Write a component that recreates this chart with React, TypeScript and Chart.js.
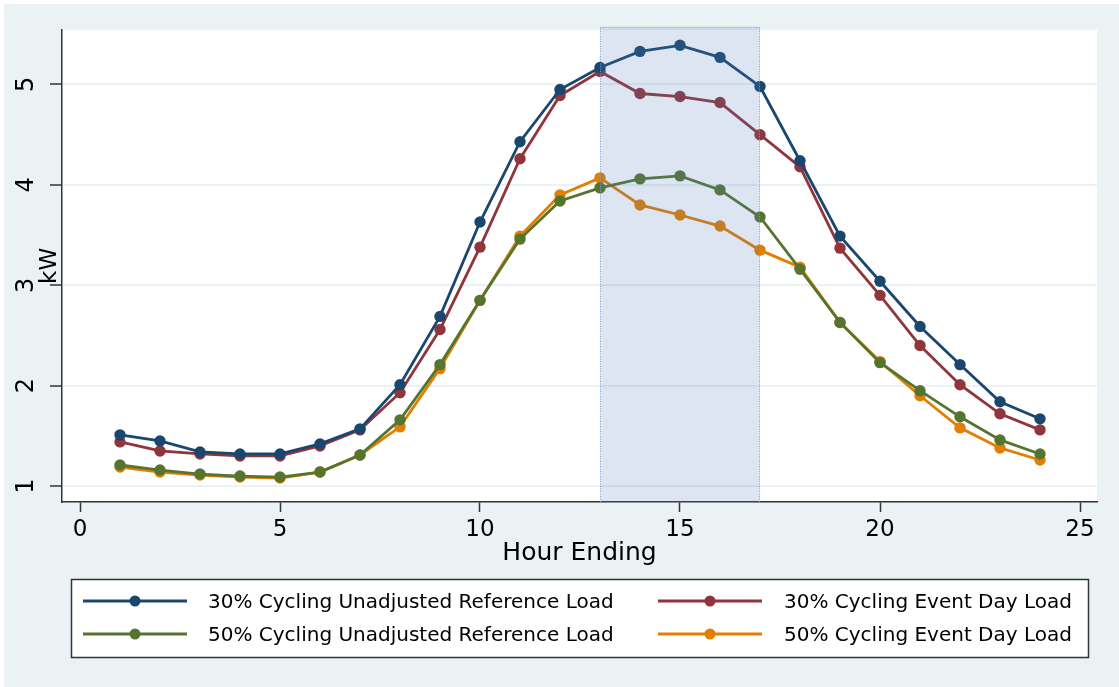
import { useEffect, useRef } from "react";
import { Chart, registerables } from "chart.js";

Chart.register(...registerables);

// ---- Data ----
const hours = [1, 2, 3, 4, 5, 6, 7, 8, 9, 10, 11, 12, 13, 14, 15, 16, 17, 18, 19, 20, 21, 22, 23, 24];
const ref30 = [1.51, 1.45, 1.34, 1.32, 1.32, 1.42, 1.57, 2.01, 2.69, 3.63, 4.43, 4.95, 5.17, 5.33, 5.39, 5.27, 4.98, 4.24, 3.49, 3.04, 2.59, 2.21, 1.84, 1.67];
const event30 = [1.44, 1.35, 1.32, 1.30, 1.30, 1.40, 1.56, 1.93, 2.56, 3.38, 4.26, 4.89, 5.13, 4.91, 4.88, 4.82, 4.50, 4.18, 3.37, 2.90, 2.40, 2.01, 1.72, 1.56];
const ref50 = [1.21, 1.16, 1.12, 1.10, 1.09, 1.14, 1.31, 1.66, 2.21, 2.85, 3.46, 3.84, 3.97, 4.06, 4.09, 3.95, 3.68, 3.16, 2.63, 2.23, 1.95, 1.69, 1.46, 1.32];
const event50 = [1.19, 1.14, 1.11, 1.09, 1.08, 1.14, 1.31, 1.59, 2.17, 2.85, 3.49, 3.90, 4.07, 3.80, 3.70, 3.59, 3.35, 3.18, 2.63, 2.24, 1.90, 1.58, 1.38, 1.26];
const seriesLabels = [
  "30% Cycling Unadjusted Reference Load",
  "30% Cycling Event Day Load",
  "50% Cycling Unadjusted Reference Load",
  "50% Cycling Event Day Load",
];
const seriesValues = [ref30, event30, ref50, event50];
const seriesColors = ["#1a476f", "#90353b", "#55752f", "#e37e00"];
const xTicks = [0, 5, 10, 15, 20, 25];
const yTicks = [1, 2, 3, 4, 5];
const eventWindow = [13, 17];
const xTitle = "Hour Ending";
const yTitle = "kW";

const FONT = "'DejaVu Sans', 'Liberation Sans', Arial, sans-serif";
const BG = "#eaf2f3";
const AXIS = "#333333";

const backgroundPlugin = {
  id: "stataBackground",
  beforeDraw(chart: any) {
    const { ctx, width, height, chartArea } = chart;
    ctx.save();
    ctx.fillStyle = "#ffffff";
    ctx.fillRect(0, 0, width, height);
    ctx.fillStyle = BG;
    ctx.fillRect(4, 4, width - 4, height - 4);
    ctx.fillStyle = "#ffffff";
    ctx.fillRect(chartArea.left, chartArea.top, chartArea.right - chartArea.left, chartArea.bottom - chartArea.top);
    ctx.restore();
  },
};

const shadePlugin = {
  id: "eventShade",
  afterDatasetsDraw(chart: any) {
    const { ctx, chartArea, scales } = chart;
    const x0 = scales.x.getPixelForValue(eventWindow[0]);
    const x1 = scales.x.getPixelForValue(eventWindow[1]);
    const top = chartArea.top - 3;
    const bottom = chartArea.bottom;
    ctx.save();
    ctx.fillStyle = "rgba(80,125,185,0.2)";
    ctx.fillRect(x0, top, x1 - x0, bottom - top);
    ctx.strokeStyle = "rgba(120,160,215,0.9)";
    ctx.lineWidth = 1;
    ctx.setLineDash([1, 1.5]);
    ctx.beginPath();
    ctx.moveTo(x0 + 0.5, bottom);
    ctx.lineTo(x0 + 0.5, top + 0.5);
    ctx.lineTo(x1 - 0.5, top + 0.5);
    ctx.lineTo(x1 - 0.5, bottom);
    ctx.stroke();
    ctx.restore();
  },
};

const legendPlugin = {
  id: "boxLegend",
  afterDraw(chart: any) {
    const { ctx } = chart;
    const box = { x: 71, y: 579, w: 1017, h: 78 };
    const lineStart = [83, 658];
    const lineLen = 104;
    const textX = [208, 784];
    const rowY = [601, 634];
    ctx.save();
    ctx.fillStyle = "#ffffff";
    ctx.fillRect(box.x, box.y, box.w, box.h);
    ctx.strokeStyle = AXIS;
    ctx.lineWidth = 1.5;
    ctx.strokeRect(box.x + 0.5, box.y + 0.5, box.w, box.h);
    chart.data.datasets.forEach((ds: any, i: number) => {
      const col = i % 2;
      const row = Math.floor(i / 2);
      const y = rowY[row];
      const xs = lineStart[col];
      ctx.strokeStyle = ds.borderColor;
      ctx.lineWidth = 2.8;
      ctx.beginPath();
      ctx.moveTo(xs, y);
      ctx.lineTo(xs + lineLen, y);
      ctx.stroke();
      ctx.fillStyle = ds.borderColor;
      ctx.beginPath();
      ctx.arc(xs + lineLen / 2, y, 5.5, 0, Math.PI * 2);
      ctx.fill();
      ctx.fillStyle = "#000000";
      ctx.font = `20px ${FONT}`;
      ctx.textBaseline = "middle";
      ctx.textAlign = "left";
      ctx.fillText(ds.label, textX[col], y + 2);
    });
    ctx.restore();
  },
};

export default function App() {
  const canvasRef = useRef<HTMLCanvasElement>(null);

  useEffect(() => {
    if (!canvasRef.current) return;
    const datasets = seriesValues.map((vals, i) => ({
      label: seriesLabels[i],
      data: hours.map((h, j) => ({ x: h, y: vals[j] })),
      borderColor: seriesColors[i],
      backgroundColor: seriesColors[i],
      pointBackgroundColor: seriesColors[i],
      pointBorderWidth: 0,
      pointRadius: 5.7,
      borderWidth: 2.8,
      tension: 0,
      fill: false,
    }));

    const chart = new Chart(canvasRef.current, {
      type: "line",
      data: { datasets },
      options: {
        responsive: false,
        animation: false,
        devicePixelRatio: 1,
        layout: { padding: { left: 0, top: 27, right: 22, bottom: 0 } },
        plugins: {
          legend: { display: false },
          tooltip: { enabled: false },
        },
        scales: {
          x: {
            type: "linear",
            min: -0.45,
            max: 25.425,
            afterBuildTicks: (s: any) => {
              s.ticks = xTicks.map((v) => ({ value: v }));
            },
            afterFit: (s: any) => {
              s.height = 185;
            },
            grid: {
              drawOnChartArea: false,
              drawTicks: true,
              tickLength: 10,
              tickColor: AXIS,
              tickWidth: 1.5,
            },
            border: { color: AXIS, width: 1.5 },
            ticks: {
              font: { family: FONT, size: 23 },
              color: "#000",
              padding: 4.5,
              autoSkip: false,
              maxRotation: 0,
              callback: (v: any) => String(v),
            },
            title: {
              display: true,
              text: xTitle,
              color: "#000",
              font: { family: FONT, size: 25 },
              padding: { top: 0, bottom: 119 },
            },
          },
          y: {
            type: "linear",
            min: 0.8416,
            max: 5.5446,
            afterBuildTicks: (s: any) => {
              s.ticks = yTicks.map((v) => ({ value: v }));
            },
            afterFit: (s: any) => {
              s.width = 62;
            },
            grid: {
              color: BG,
              lineWidth: 2,
              drawTicks: true,
              tickLength: 12,
              tickColor: AXIS,
              tickWidth: 1.5,
            },
            border: { color: AXIS, width: 1.5 },
            ticks: {
              font: { family: FONT, size: 24 },
              color: "#000",
              minRotation: 90,
              maxRotation: 90,
              crossAlign: "center",
              padding: 15.4,
              autoSkip: false,
              callback: (v: any) => String(v),
            },
            title: {
              display: true,
              text: yTitle,
              color: "#000",
              font: { family: FONT, size: 23 },
              padding: { top: 36.7, bottom: 0 },
            },
          },
        },
      } as any,
      plugins: [backgroundPlugin, shadePlugin, legendPlugin],
    });

    return () => chart.destroy();
  }, []);

  return (
    <div style={{ position: "absolute", left: 0, top: 0, width: 1119, height: 687 }}>
      <canvas ref={canvasRef} width={1119} height={687} style={{ display: "block", width: 1119, height: 687 }} />
    </div>
  );
}
